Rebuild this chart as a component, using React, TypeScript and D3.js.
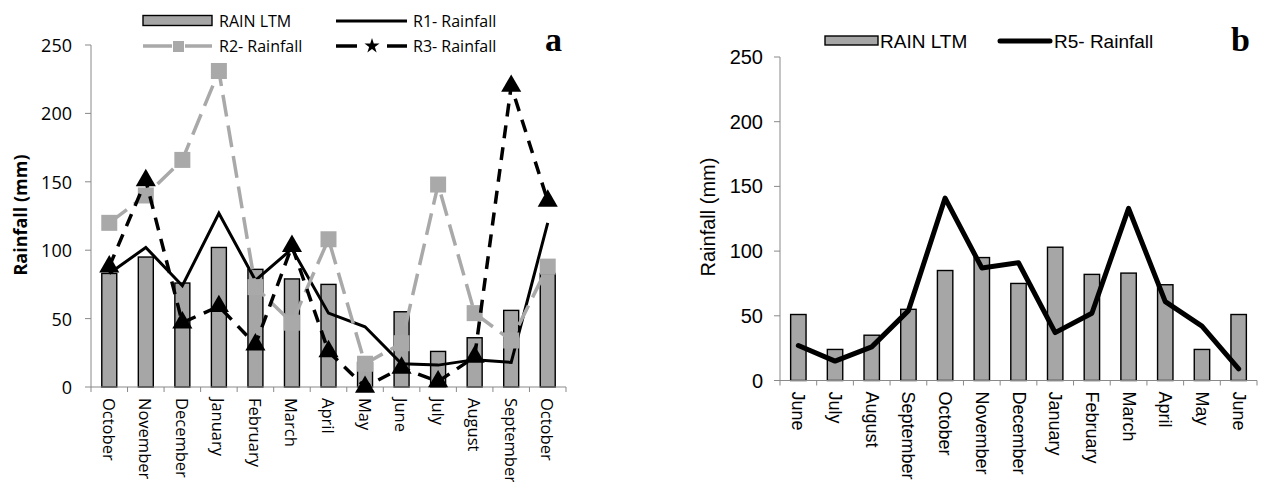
import React from 'react';
import * as d3 from 'd3';

// panel a
const monthsA = ['October', 'November', 'December', 'January', 'February', 'March', 'April', 'May', 'June', 'July', 'August', 'September', 'October'];
const rainLtmA = [83, 95, 76, 102, 86, 79, 75, 18, 55, 26, 36, 56, 83];
const r1Rain = [83, 102, 74, 127, 78, 101, 54, 44, 17, 16, 20, 18, 120];
const r2Rain = [120, 140, 166, 231, 73, 47, 108, 17, 32, 148, 54, 34, 88];
const r3Rain = [88, 151, 47, 59, 31, 103, 26, 0, 14, 4, 22, 220, 136];

// panel b
const monthsB = ['June', 'July', 'August', 'September', 'October', 'November', 'December', 'January', 'February', 'March', 'April', 'May', 'June'];
const rainLtmB = [51, 24, 35, 55, 85, 95, 75, 103, 82, 83, 74, 24, 51];
const r5Rain = [27, 15, 26, 54, 141, 87, 91, 37, 52, 133, 61, 42, 9];

const yTicks = [0, 50, 100, 150, 200, 250];

const axisGray = '#898989';
const barGray = '#a6a6a6';
const markGray = '#a9a9a9';

function App() {
  // ---- panel a scales
  const xaBand = d3.scaleBand<number>().domain(d3.range(monthsA.length)).range([91, 566]);
  const xa = xaBand.copy().paddingInner(0.59).paddingOuter(0.295);
  const ya = d3.scaleLinear().domain([0, 250]).range([387, 45]);
  const cxa = (i: number) => (xaBand(i) as number) + xaBand.bandwidth() / 2;
  const lineA = d3.line<number>().x((d, i) => cxa(i)).y(d => ya(d));

  // ---- panel b scales
  const xbBand = d3.scaleBand<number>().domain(d3.range(monthsB.length)).range([780, 1257]);
  const xb = xbBand.copy().paddingInner(0.58).paddingOuter(0.29);
  const yb = d3.scaleLinear().domain([0, 250]).range([380.5, 57]);
  const cxb = (i: number) => (xbBand(i) as number) + xbBand.bandwidth() / 2;
  const lineB = d3.line<number>().x((d, i) => cxb(i)).y(d => yb(d));

  const tri = d3.symbol().type(d3.symbolTriangle).size(175)();
  const star = d3.symbol().type(d3.symbolStar).size(70)();

  const fa = '"Open Sans", sans-serif';
  const fb = '"Liberation Sans", Arial, sans-serif';
  const serif = '"Liberation Serif", "Times New Roman", serif';

  return (
    <div style={{ position: 'absolute', left: 0, top: 0 }}>
      <svg width={1262} height={482} style={{ display: 'block', background: '#fff' }}>
        {/* ================= panel a ================= */}
        <g fontFamily={fa}>
          {/* y axis */}
          <line x1={91} x2={91} y1={ya(250)} y2={ya(0)} stroke={axisGray} strokeWidth={1} />
          {yTicks.map(t => (
            <g key={t}>
              <line x1={85} x2={91} y1={ya(t)} y2={ya(t)} stroke={axisGray} />
              <text x={72} y={ya(t)} textAnchor="end" dominantBaseline="central" fontSize={18} fill="#000">{t}</text>
            </g>
          ))}
          <text transform="translate(20, 215) rotate(-90)" textAnchor="middle" dominantBaseline="central" fontSize={18} fontWeight="bold">Rainfall (mm)</text>

          {/* bars */}
          {rainLtmA.map((v, i) => (
            <rect key={i} x={xa(i)} y={ya(v)} width={xa.bandwidth()} height={ya(0) - ya(v)} fill={barGray} stroke="#000" strokeWidth={1.4} />
          ))}

          {/* x axis */}
          <line x1={91} x2={566} y1={ya(0)} y2={ya(0)} stroke={axisGray} />
          {d3.range(monthsA.length + 1).map(i => {
            const x = i === monthsA.length ? 566 : (xaBand(i) as number);
            return <line key={i} x1={x} x2={x} y1={ya(0)} y2={ya(0) + 5} stroke={axisGray} />;
          })}
          {monthsA.map((m, i) => (
            <text key={i} transform={`translate(${cxa(i)}, ${ya(0) + 11}) rotate(90)`} textAnchor="start" dominantBaseline="central" fontSize={16.5}>{m}</text>
          ))}

          {/* R1 */}
          <path d={lineA(r1Rain) as string} fill="none" stroke="#000" strokeWidth={3} />
          {/* R2 */}
          <path d={lineA(r2Rain) as string} fill="none" stroke={markGray} strokeWidth={3.5} strokeDasharray="22 9" />
          {r2Rain.map((v, i) => (
            <rect key={i} x={cxa(i) - 8} y={ya(v) - 8} width={16} height={16} fill={markGray} />
          ))}
          {/* R3 */}
          <path d={lineA(r3Rain) as string} fill="none" stroke="#000" strokeWidth={3.5} strokeDasharray="13 9" />
          {r3Rain.map((v, i) => (
            <path key={i} d={tri as string} transform={`translate(${cxa(i)}, ${ya(v)})`} fill="#000" />
          ))}

          {/* legend */}
          <rect x={143} y={15.5} width={69} height={10} fill={barGray} stroke="#000" strokeWidth={1.4} />
          <text x={219} y={21} dominantBaseline="central" fontSize={16}>RAIN LTM</text>
          <line x1={336} x2={407} y1={21} y2={21} stroke="#000" strokeWidth={3} />
          <text x={413} y={21} dominantBaseline="central" fontSize={16}>R1- Rainfall</text>

          <line x1={143} x2={172} y1={46} y2={46} stroke={markGray} strokeWidth={3.5} />
          <line x1={185} x2={212} y1={46} y2={46} stroke={markGray} strokeWidth={3.5} />
          <rect x={173} y={41} width={11} height={11} fill={markGray} />
          <text x={219} y={46} dominantBaseline="central" fontSize={16}>R2- Rainfall</text>
          <line x1={336} x2={357} y1={46} y2={46} stroke="#000" strokeWidth={3.5} />
          <line x1={387} x2={407} y1={46} y2={46} stroke="#000" strokeWidth={3.5} />
          <path d={star as string} transform="translate(372, 46)" fill="#000" />
          <text x={413} y={46} dominantBaseline="central" fontSize={16}>R3- Rainfall</text>

          <text x={545} y={51} fontFamily={serif} fontWeight="bold" fontSize={34}>a</text>
        </g>

        {/* ================= panel b ================= */}
        <g fontFamily={fb}>
          <line x1={780} x2={780} y1={yb(250)} y2={yb(0)} stroke={axisGray} />
          {yTicks.map(t => (
            <g key={t}>
              <line x1={774} x2={780} y1={yb(t)} y2={yb(t)} stroke={axisGray} />
              <text x={763} y={yb(t)} textAnchor="end" dominantBaseline="central" fontSize={20}>{t}</text>
            </g>
          ))}
          <text transform={`translate(708, 217) rotate(-90)`} textAnchor="middle" dominantBaseline="central" fontSize={20}>Rainfall (mm)</text>

          {rainLtmB.map((v, i) => (
            <rect key={i} x={xb(i)} y={yb(v)} width={xb.bandwidth()} height={yb(0) - yb(v)} fill={barGray} stroke="#000" strokeWidth={1.4} />
          ))}

          <line x1={780} x2={1257} y1={yb(0)} y2={yb(0)} stroke={axisGray} />
          {d3.range(monthsB.length + 1).map(i => {
            const x = i === monthsB.length ? 1257 : (xbBand(i) as number);
            return <line key={i} x1={x} x2={x} y1={yb(0)} y2={yb(0) + 5} stroke={axisGray} />;
          })}
          {monthsB.map((m, i) => (
            <text key={i} transform={`translate(${cxb(i)}, ${yb(0) + 11}) rotate(90)`} textAnchor="start" dominantBaseline="central" fontSize={18}>{m}</text>
          ))}

          <path d={lineB(r5Rain) as string} fill="none" stroke="#000" strokeWidth={5} strokeLinejoin="round" strokeLinecap="round" />

          {/* legend */}
          <rect x={825} y={36} width={53} height={9} fill={barGray} stroke="#000" strokeWidth={1.4} />
          <text x={880} y={41} dominantBaseline="central" fontSize={19}>RAIN LTM</text>
          <line x1={1000} x2={1050} y1={41} y2={41} stroke="#000" strokeWidth={5} strokeLinecap="round" />
          <text x={1054} y={41} dominantBaseline="central" fontSize={19}>R5- Rainfall</text>

          <text x={1231} y={51} fontFamily={serif} fontWeight="bold" fontSize={34}>b</text>
        </g>
      </svg>
    </div>
  );
}

export default App;
